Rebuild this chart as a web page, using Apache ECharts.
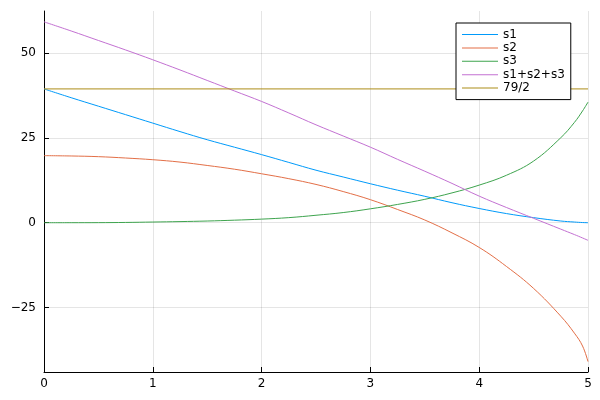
<!DOCTYPE html>
<html>
<head>
<meta charset="utf-8">
<script src="https://cdn.jsdelivr.net/npm/echarts@6/dist/echarts.min.js"></script>
<style>html,body{margin:0;padding:0;background:#fff}#c{width:600px;height:400px}</style>
</head>
<body>
<div id="c"></div>
<script>
const xs = [0,0.25,0.5,0.75,1,1.25,1.5,1.75,2,2.25,2.5,2.75,3,3.25,3.5,3.75,4,4.25,4.5,4.75,4.875,4.95,5];
const s1 = [39.5,36.9,34.4,31.9,29.4,26.9,24.5,22.3,20.1,17.8,15.5,13.5,11.5,9.6,7.8,5.9,4.2,2.7,1.5,0.5,0.2,0.05,0];
const s2 = [19.8,19.7,19.5,19.1,18.6,17.9,16.9,15.8,14.45,13.0,11.3,9.2,6.8,3.9,0.8,-3.0,-7.3,-12.9,-19.4,-27.6,-32.6,-36.4,-41.0];
const s3 = [0,0.005,0.02,0.08,0.2,0.33,0.5,0.75,1.06,1.5,2.2,3.0,4.1,5.4,6.9,8.8,11.1,14.0,18.2,25.1,29.6,33.0,35.6];
const s4 = [59.3,56.6,53.8,51.0,48.1,45.1,42.0,38.9,35.8,32.4,28.9,25.6,22.3,18.7,15.2,11.6,7.85,4.5,1.3,-1.9,-3.5,-4.5,-5.2];
const hx = [0,5];
const hy = [39.5,39.5];
const names = ['s1','s2','s3','s1+s2+s3','79/2'];
const colors = ['#009AFA','#E36F47','#3EA44E','#C371D2','#AC8D18'];
const xTicks = [0,1,2,3,4,5];
const yTicks = [-25,0,25,50];

const pairs = (x, y) => x.map((v, i) => [v, y[i]]);
const datasets = [pairs(xs,s1), pairs(xs,s2), pairs(xs,s3), pairs(xs,s4), pairs(hx,hy)];

const chart = echarts.init(document.getElementById('c'), null, {renderer:'canvas'});
const font = 'DejaVu Sans';
chart.setOption({
  animation: false,
  backgroundColor: '#fff',
  grid: {left: 44, right: 12, top: 11, bottom: 28, containLabel: false},
  xAxis: {
    type: 'value', min: 0, max: 5,
    axisLine: {show: true, onZero: false, lineStyle: {color: '#000', width: 1}},
    axisTick: {show: true, inside: true, length: 5, customValues: xTicks, lineStyle: {color: '#000'}},
    axisLabel: {customValues: xTicks, margin: 6, color: '#000', fontFamily: font, fontSize: 12},
    splitLine: {show: true, lineStyle: {color: 'rgba(0,0,0,0.1)', width: 1}}
  },
  yAxis: {
    type: 'value', min: -44.07, max: 62.5,
    axisLine: {show: true, onZero: false, lineStyle: {color: '#000', width: 1}},
    axisTick: {show: true, inside: true, length: 5, customValues: yTicks, lineStyle: {color: '#000'}},
    axisLabel: {customValues: yTicks, margin: 8, color: '#000', fontFamily: font, fontSize: 12,
      formatter: v => String(v).replace('-', '\u2212')},
    splitLine: {show: true, lineStyle: {color: 'rgba(0,0,0,0.1)', width: 1}}
  },
  legend: {
    orient: 'vertical', left: 456, top: 23,
    padding: [5, 6, 5, 6], itemGap: 0.4,
    itemWidth: 36, itemHeight: 1, icon: 'rect',
    borderColor: '#000', borderWidth: 1, backgroundColor: '#fff',
    textStyle: {fontFamily: font, fontSize: 12, color: '#000', lineHeight: 13, padding: [0,0,0,0]},
    data: names
  },
  series: names.map((n, i) => ({
    name: n, type: 'line', data: datasets[i],
    symbol: 'none', smooth: i === 4 ? false : 0.4,
    color: colors[i],
    lineStyle: {color: colors[i], width: 1}
  }))
});
</script>
</body>
</html>
